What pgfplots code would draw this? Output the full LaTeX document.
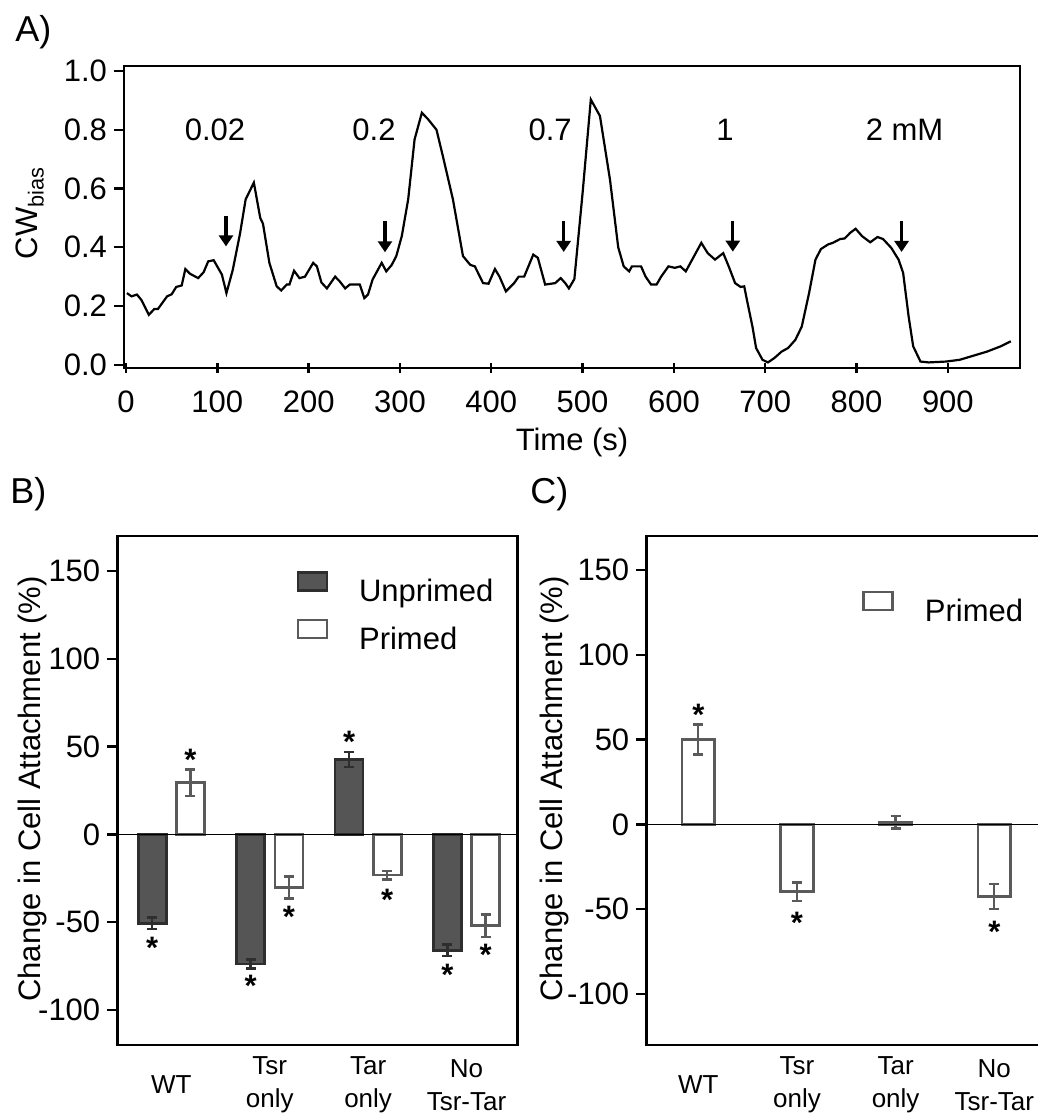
\documentclass[border=0pt]{standalone}
\usepackage{fontspec}
\setmainfont{Liberation Sans}
\usepackage{pgfplots}
\pgfplotsset{compat=1.18}
\usetikzlibrary{arrows.meta}

\definecolor{unfill}{HTML}{555555}
\definecolor{undraw}{HTML}{2E2E2E}
\definecolor{prdraw}{HTML}{5A5A5A}

\pgfplotsset{
  panel/.style={
    scale only axis,
    axis line style={line width=1.3pt, black},
    tick style={line width=1.2pt, black},
    major tick length=5pt,
    /pgf/number format/assume math mode=true,
    xtick pos=left, ytick pos=left,
    ytick align=outside,
    clip=false,
  },
  barpanel/.style={
    panel,
    xtick={0,1,2,3},
    xticklabels={WT, Tsr\\only, Tar\\only, No\\Tsr-Tar},
    xticklabel style={align=center, anchor=center, yshift=-20pt,
      font=\fontsize{13}{16.7}\selectfont},
    xtick style={draw=none},
    ytick={-100,-50,0,50,100,150},
    ylabel={Change in Cell Attachment (\%)},
    legend cell align=left,
    legend image code/.code={\draw[##1] (0pt,0.8pt) rectangle (14.5pt,9.8pt);},
  },
  unp/.style={ybar, bar width=14pt, bar shift=0pt, fill=unfill, draw=undraw, line width=1.3pt,
    error bars/.cd, y dir=both, y explicit,
    error bar style={line width=1.2pt, undraw},
    error mark options={rotate=90, mark size=2.5pt, line width=1.2pt, undraw}},
  pri/.style={ybar, bar shift=0pt, bar width=#1, fill=white, draw=prdraw, line width=1.3pt,
    error bars/.cd, y dir=both, y explicit,
    error bar style={line width=1.2pt, prdraw},
    error mark options={rotate=90, mark size=2.5pt, line width=1.2pt, prdraw}},
}
\newcommand{\st}[2]{\node[font=\fontsize{15.5}{17}\bfseries\selectfont, inner sep=0pt, yshift=-3.3pt] at (axis cs:#1,#2) {*};}

\begin{document}
\begin{tikzpicture}[font=\fontsize{15.5}{17}\selectfont]
\path[use as bounding box] (0pt,0pt) rectangle (519pt,-558pt);

\node[anchor=north west, inner sep=0pt, font=\fontsize{18}{20}\selectfont] at (7.5pt,-7.5pt) {A)};
\node[anchor=north west, inner sep=0pt, font=\fontsize{18}{20}\selectfont] at (5pt,-238.5pt) {B)};
\node[anchor=north west, inner sep=0pt, font=\fontsize{18}{20}\selectfont] at (265pt,-238.5pt) {C)};

% panel A: CW bias trace
\begin{axis}[panel,
  at={(62pt,-33pt)}, anchor=north west,
  width=448pt, height=151pt,
  xmin=-2.2, xmax=979, ymin=-0.011, ymax=1.017,
  xtick={0,100,200,300,400,500,600,700,800,900},
  ytick={0,0.2,0.4,0.6,0.8,1.0},
  xtick align=center,
  xticklabel style={anchor=center, yshift=-14.5pt},
  yticklabel style={/pgf/number format/.cd, fixed, fixed zerofill, precision=1},
  xlabel={Time (s)},
  xlabel style={at={(axis description cs:0.5,-0.245)}, anchor=center},
  ylabel={CW\textsubscript{bias}},
  ylabel style={at={(axis description cs:-0.105,0.513)}, anchor=center},
]
\addplot[black, line width=1.1pt] coordinates {
(1,0.244)(6,0.233)(12,0.239)(17,0.22)(25,0.17)(31,0.19)(35,0.19)(45,0.233)(50,0.24)
(55,0.265)(61,0.27)(65,0.326)(70,0.31)(79,0.295)(85,0.315)(90,0.352)(96,0.356)
(105,0.307)(110,0.244)(117,0.324)(125,0.449)(131,0.563)(140,0.62)(147,0.5)(150,0.48)
(157,0.347)(165,0.267)(170,0.253)(176,0.273)(179,0.273)(184,0.32)(190,0.295)(196,0.3)
(205,0.347)(209,0.335)(214,0.28)(220,0.26)(229,0.3)(234,0.284)(240,0.26)(245,0.273)
(256,0.273)(261,0.227)(265,0.239)(270,0.29)(280,0.347)(285,0.318)(291,0.34)(296,0.37)
(302,0.438)(309,0.563)(316,0.767)(324,0.858)(331,0.835)(340,0.8)(347,0.71)(358,0.563)
(369,0.37)(377,0.34)(382,0.335)(391,0.278)(397,0.276)(404,0.326)(409,0.3)(416,0.25)
(425,0.278)(430,0.3)(436,0.3)(446,0.375)(451,0.364)(459,0.273)(470,0.278)(476,0.295)
(481,0.278)(485,0.26)(491,0.292)(500,0.585)(509,0.903)(519,0.847)(530,0.63)(539,0.4)
(545,0.335)(551,0.318)(554,0.335)(564,0.335)(569,0.3)(575,0.273)(581,0.273)(586,0.3)
(594,0.335)(601,0.33)(607,0.335)(613,0.318)(620,0.358)(630,0.415)(637,0.38)(645,0.358)
(654,0.38)(660,0.335)(667,0.278)(673,0.265)(677,0.267)(680,0.22)(686,0.13)(690,0.057)
(697,0.017)(703,0.008)(710,0.023)(718,0.045)(725,0.057)(733,0.085)(740,0.13)(748,0.244)
(755,0.358)(761,0.394)(769,0.41)(774,0.415)(782,0.428)(787,0.43)(793,0.449)(799,0.463)
(806,0.438)(815,0.417)(823,0.435)(829,0.428)(838,0.398)(846,0.358)(851,0.313)(857,0.165)
(862,0.063)(870,0.011)(879,0.008)(898,0.011)(913,0.017)(928,0.031)(943,0.045)(958,0.063)
(969,0.08)
};
\foreach \ax/\top in {109.5/0.508, 283.6/0.488, 479.3/0.489, 664.5/0.49, 849.3/0.489} {
  \edef\tmp{\noexpand\draw[line width=1.6pt, -{Triangle[width=7pt,length=5.5pt]}] (axis cs:\ax,\top) -- (axis cs:\ax,\top-0.105);}
  \tmp
}
\node at (axis cs:97.5,0.80) {0.02};
\node at (axis cs:271.6,0.80) {0.2};
\node at (axis cs:464.4,0.80) {0.7};
\node at (axis cs:656,0.80) {1};
\node at (axis cs:852.6,0.80) {2 mM};
\end{axis}

% panel B: bars sit at group position -/+ 0.194
\begin{axis}[barpanel,
  at={(58.65pt,-268pt)}, anchor=north west,
  width=200pt, height=254.5pt,
  xmin=-0.549, xmax=3.516, ymin=-120, ymax=170,
  ylabel style={at={(axis description cs:-0.211,0.503)}, anchor=center},
  legend style={draw=none, fill=none, at={(0.447,0.932)}, anchor=north west,
    inner sep=0pt, nodes={inner sep=0pt}, row sep=7pt,
    /tikz/every odd column/.append style={column sep=15.5pt}},
]
\addplot[unp] coordinates {
  (-0.194,-50.7) +- (0,3.3)
  (0.806,-73.8)  +- (0,2.5)
  (1.806,42.8)   +- (0,4.3)
  (2.806,-66)    +- (0,3.3)
};
\addlegendentry{Unprimed}
\addplot[pri=14pt] coordinates {
  (0.194,29.5)  +- (0,7.5)
  (1.194,-30.3) +- (0,6.2)
  (2.194,-23.2) +- (0,2.5)
  (3.194,-52)   +- (0,6.3)
};
\addlegendentry{Primed}
\draw[line width=0.85pt] (axis cs:-0.549,0) -- (axis cs:3.516,0);
\st{-0.194}{-61}
\st{0.194}{46}
\st{0.806}{-82.7}
\st{1.194}{-43}
\st{1.806}{56.3}
\st{2.194}{-33.5}
\st{2.806}{-76}
\st{3.194}{-65}
\end{axis}

% panel C
\begin{axis}[barpanel,
  at={(323.15pt,-268pt)}, anchor=north west,
  width=200pt, height=254.5pt,
  xmin=-0.527, xmax=3.527, ymin=-130, ymax=170,
  ylabel style={at={(axis description cs:-0.229,0.503)}, anchor=center},
  legend style={draw=none, fill=none, at={(0.539,0.893)}, anchor=north west,
    inner sep=0pt, nodes={inner sep=0pt},
    /tikz/every odd column/.append style={column sep=15.5pt}},
]
\addplot[pri=16.35pt] coordinates {
  (0,50)    +- (0,8.8)
  (1,-39.6) +- (0,5.5)
  (2,1.2)   +- (0,3.7)
  (3,-42.5) +- (0,7.4)
};
\addlegendentry{Primed}
\draw[line width=0.85pt] (axis cs:-0.527,0) -- (axis cs:3.527,0);
\st{0}{68.2}
\st{1}{-54.3}
\st{3}{-59.2}
\end{axis}
\end{tikzpicture}
\end{document}
